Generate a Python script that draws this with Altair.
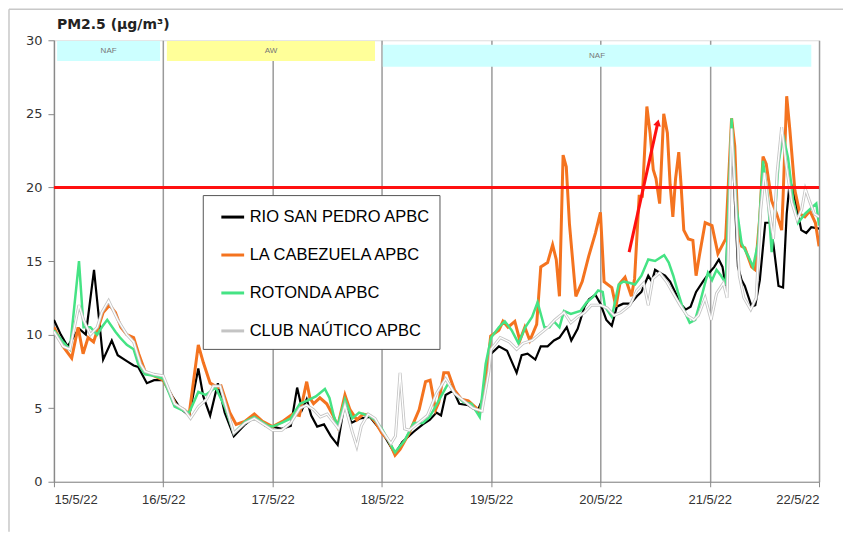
import altair as alt
import pandas as pd

# ---- data (hours since 15/5/22 00:00, PM2.5 µg/m3) ----
series_names = ["RIO SAN PEDRO APBC", "LA CABEZUELA  APBC", "ROTONDA  APBC", "CLUB NAÚTICO  APBC"]
series_colors = ["#000000", "#F4731F", "#45E384", "#c4c4c4"]

rio_h = [0, 1.5, 3, 5.5, 7, 8.8, 10.8, 12.7, 14, 16, 17.5, 18.5, 20.4, 22, 24, 26, 27.7, 29.7, 31.7, 32.8,
         34.3, 36, 37.5, 39.5, 42, 44, 46.5, 48, 50, 52, 53.4, 54.5, 55.5, 56.5, 57.8, 59.3, 60.8, 62.3, 63.9,
         65.3, 67.2, 69.4, 70.7, 72, 74.9, 76.5, 79, 81, 82.5, 84, 85, 86, 87.7, 89, 91, 93, 94.5, 95.5, 96,
         97.7, 99.5, 101.6, 102.7, 104, 105.7, 106.9, 108.4, 109.8, 111, 112.6, 113.6, 115, 116.5, 117.5,
         118.9, 120, 121.3, 122.5, 123.6, 125, 126.6, 128, 129, 130.5, 131.3, 132, 133, 134.2, 135.3, 136.4,
         137.6, 138.7, 139.8, 141, 142.5, 143.9, 145, 146, 146.8, 147.5, 148.8, 149.5, 150.2, 151, 151.7,
         153.2, 154, 155, 156.2, 157.3, 158, 159.1, 160.1, 160.9, 161.6, 162.3, 163.4, 164.1, 165.2, 166.3, 168]
rio_v = [11.0, 10.0, 9.2, 10.4, 10.0, 14.4, 8.3, 9.6, 8.6, 8.2, 7.9, 7.8, 6.7, 6.9, 6.9, 5.8, 5.0, 4.5, 7.7, 5.8,
         4.5, 6.7, 4.7, 3.1, 3.9, 4.4, 3.8, 3.75, 3.6, 3.8, 6.4, 4.9, 5.6, 4.5, 3.75, 3.9, 3.1, 2.5, 5.5,
         4.0, 4.3, 4.4, 3.9, 3.4, 1.9, 2.7, 3.4, 3.9, 4.2, 4.7, 4.5, 5.9, 6.2, 5.3, 5.2, 4.8, 5.9, 8.7, 8.7,
         9.2, 8.9, 7.4, 8.6, 8.7, 8.3, 9.2, 9.2, 9.6, 9.8, 10.5, 9.6, 10.4, 11.9, 12.4,
         12.7, 12.1, 11.0, 10.6, 11.9, 12.1, 12.1, 12.6, 12.9, 14.0, 13.6, 14.4, 14.2, 14.0, 13.6, 12.9,
         12.1, 11.7, 11.9, 12.9, 13.6, 14.2, 14.6, 15.1, 14.6, 13.3, 24.5, 19.2, 14.6, 13.7, 13.3,
         11.9, 12.0, 13.7, 17.6, 17.6, 16.1, 13.3, 13.2, 18.2, 20.5, 19.8, 18.2, 17.1, 16.9, 17.3, 17.2]

cab_h = [0, 2, 3.9, 5.3, 6.4, 7.5, 8.7, 10.8, 12.2, 13.5, 14.7, 16, 17.5, 18.6, 20, 22, 24, 25.4, 26.8, 28.6,
         29.7, 31.7, 32.8, 34.3, 36, 36.7, 38.6, 40, 41.9, 44, 45.8, 48, 50.2, 52.4, 53.9, 55.5, 56.2, 57,
         58.4, 59.9, 61.3, 62.3, 63.9, 65, 66.5, 67.9, 69.4, 70.7, 72, 73.5, 74.9, 76, 78, 80.2, 81.6, 82.6,
         83.8, 84.5, 85.6, 86.6, 88, 89.5, 91, 92.8, 93.5, 94.8, 95.9, 97.7, 98.6, 99.7, 101.2, 102.3, 103.4,
         104.5, 106, 106.9, 108.4, 109.5, 110.3, 111, 111.8, 112.5, 113.2, 114.6, 116, 117.4, 118.9, 120,
         120.8, 122.5, 123.4, 124.3, 125.4, 126.8, 127.5, 128.5, 129.2, 130.2, 130.9, 131.6, 132.2, 133.0,
         133.9, 134.7, 135.3, 135.9, 136.5, 137.2, 137.7, 138.3, 139.3, 140.3, 141.0, 141.8, 143, 144.5,
         145.8, 147.5, 148.8, 149.5, 150.2, 151, 151.7, 153.2, 154, 155, 155.7, 156.4, 157.6, 158.7, 159.8,
         160.1, 160.9, 161.6, 162.7, 163.8, 164.9, 166, 167.2, 168]
cab_v = [10.5, 9.2, 8.4, 10.5, 8.7, 9.8, 9.5, 11.5, 12.0, 11.5, 10.5, 10.0, 9.8, 8.7, 7.5, 7.2, 6.9, 6.1, 5.2, 4.9,
         4.6, 9.3, 8.1, 6.7, 6.4, 6.5, 4.7, 3.9, 4.1, 4.6, 4.1, 3.75, 4.1, 4.6, 4.5, 6.8, 5.7, 5.3,
         5.7, 5.3, 4.5, 3.75, 5.9, 4.9, 4.2, 4.6, 4.5, 4.0, 3.3, 2.8, 1.8, 2.2, 3.3, 4.9, 6.8, 6.9,
         4.9, 5.4, 7.4, 7.4, 6.2, 5.6, 5.5, 5.0, 4.7, 6.7, 9.9, 10.3, 10.9, 10.5, 10.9, 9.6, 10.5,
         9.6, 10.7, 14.6, 14.9, 16.1, 15.1, 12.6, 22.2, 21.4, 17.5, 12.6, 13.6, 15.3, 16.9, 18.3,
         13.6, 13.2, 11.9, 13.5, 13.9, 12.6, 13.8, 19.4, 19.4, 25.5, 23.7, 21.2, 20.6, 18.9,
         25.0, 23.7, 20.2, 18.0, 20.6, 22.4, 20.2, 17.1, 16.5, 16.4, 14.0, 15.5, 17.6, 17.4,
         15.5, 16.5, 24.7, 22.8, 17.1, 16.0, 15.9, 14.6, 14.4, 18.0, 22.1, 21.6, 19.1, 18.2, 17.1,
         19.3, 26.2, 23.9, 19.8, 18.2, 18.0, 18.4, 17.6, 16.0]

rot_h = [0, 2, 3.5, 5.5, 6.5, 8, 9.5, 10.5, 11.7, 13.5, 14.5, 16, 17.5, 18.5, 20, 22, 24, 26.5, 28.6, 29.7,
         31.7, 33.3, 35.5, 37.5, 39.5, 42, 44, 47, 48, 50, 52, 54, 55.5, 57.5, 59.5, 60.5, 61.5, 62.3, 63.9,
         65.5, 67, 69, 70.5, 72, 74.9, 77, 79, 81, 82.5, 85, 86.6, 88, 90, 91.7, 93.5, 94.8, 96, 97.7, 99,
         100.5, 102, 103.5, 105, 106.2, 107.7, 108.8, 109.8, 111, 112, 113.5, 115.6, 117, 118.5, 119.5,
         120.5, 121, 122.5, 124, 125, 126.5, 127.6, 129, 130.5, 132, 134, 135, 136, 137, 138, 139.6, 140.8,
         141.8, 142.9, 143.6, 144.5, 145.5, 146.5, 147.5, 148.8, 149.9, 151, 152.5, 153.5, 154.6, 155.7,
         156.8, 157.6, 158.4, 159.1, 160.1, 161.2, 162.3, 163.4, 164.9, 166.3, 167.4, 168]
rot_v = [10.3, 9.5, 9.0, 15.0, 10.5, 10.5, 10.0, 10.5, 11.0, 10.2, 9.8, 9.3, 9.0, 8.0, 7.3, 7.2, 7.0, 5.1, 4.8, 4.7,
         6.1, 5.9, 6.4, 5.1, 3.3, 4.1, 4.4, 3.8, 3.75, 4.0, 4.3, 5.3, 5.5, 5.8, 6.3, 5.7, 4.4, 3.8, 5.6,
         4.3, 4.7, 4.5, 4.2, 3.6, 2.0, 2.8, 4.0, 4.0, 4.4, 5.8, 6.7, 6.0, 5.4, 5.3, 4.4, 8.0, 9.8, 10.5, 10.9,
         10.3, 9.4, 10.5, 11.2, 12.2, 10.5, 10.5, 10.9, 10.5, 11.6, 11.4, 11.6, 12.2, 12.6, 13.0,
         12.9, 11.9, 11.2, 13.4, 13.6, 13.5, 13.4, 14.0, 15.1, 15.0, 15.4, 14.9, 14.0, 12.9, 11.9, 10.8, 11.0,
         12.1, 13.4, 14.2, 13.7, 14.4, 14.0, 13.5, 24.7, 18.6, 16.2, 15.3, 14.6, 16.2, 21.8,
         19.2, 15.6, 18.5, 21.6, 23.6, 22.0, 19.2, 17.6, 18.2, 18.6, 18.9, 17.4]

club_h = [0, 2, 3.5, 5.5, 6.5, 8, 9.5, 10.5, 12, 14, 15, 16, 17.5, 19, 20, 22, 24, 26.5, 28.6, 30, 31.7, 33.5,
          35, 36.5, 38, 39.5, 42, 44, 47, 48, 50, 52, 54, 55.5, 57, 58.5, 60, 61.5, 62.5, 63.9, 65.5, 66.5,
          67.5, 69, 70.5, 72, 74, 75, 76, 77, 78, 80, 82, 84, 86, 88, 90, 92, 94, 95.5, 96, 98, 100, 101.6,
          103, 105, 106.5, 108.5, 110, 112, 113.5, 115, 116.5, 118, 120, 121.5, 123, 124.5, 126.5, 128,
          129.5, 130.5, 131.5, 133, 134.5, 136, 137.5, 139, 140.5, 141.5, 143, 144.3, 145.5, 147, 147.8,
          148.8, 149.6, 150.5, 151.5, 153, 154.2, 155.2, 156, 157, 158, 158.8, 159.8, 160.8, 162, 163.2,
          164.2, 165, 166, 167, 168]
club_v = [10.2, 9.2, 9.0, 12.0, 11.0, 10.0, 10.5, 11.5, 12.3, 11.0, 10.5, 10.0, 9.5, 8.0, 7.5, 7.3, 7.2, 5.3, 4.9,
          4.3, 5.1, 5.6, 6.5, 6.5, 4.9, 3.3, 4.0, 4.3, 3.7, 3.5, 3.5, 4.0, 5.0, 5.2, 4.9, 4.4, 4.6, 4.0, 3.6,
          5.2, 3.4, 2.4, 3.8, 4.6, 4.3, 3.5, 2.6, 3.1, 7.4, 3.6, 3.5, 4.0, 4.5, 6.0, 7.0, 6.0, 5.5, 5.0, 4.8,
          7.5, 9.0, 9.8, 9.5, 9.0, 9.4, 9.6, 10.0, 10.5, 11.0, 11.5, 10.8, 11.2, 11.5, 12.0, 12.0, 11.8,
          11.3, 11.5, 12.0, 13.0, 13.5, 12.0, 13.8, 14.2, 13.6, 12.8, 12.0, 11.3, 11.0, 11.3, 12.5, 11.0,
          12.8, 13.5, 12.5, 24.0, 19.5, 14.0, 12.5, 11.7, 12.5, 18.5, 21.0, 18.5, 16.5, 21.0, 24.1, 21.5,
          19.0, 17.8, 18.5, 19.9, 19.0, 18.2, 18.0]

limit_value = [20]
day_labels = ["15/5/22", "16/5/22", "17/5/22", "18/5/22", "19/5/22", "20/5/22", "21/5/22", "22/5/22"]
day_ticks = [0, 24, 48, 72, 96, 120, 144, 168]

band_labels = ["NAF", "AW", "NAF"]
band_start = [0.7, 24.8, 72.2]
band_end = [23.3, 70.5, 166.3]
band_top = [29.95, 29.95, 29.7]
band_bottom = [28.6, 28.6, 28.2]
band_colors = ["#CCFFFF", "#FFFF99", "#CCFFFF"]

arrow_x = [126.3, 132.6]
arrow_y = [15.6, 24.4]

title_text = ["PM2.5 (µg/m³)"]

# ---- build tables ----
def frame(name, hs, vs):
    return pd.DataFrame({"h": hs, "v": vs, "series": name})

df_rio = frame(series_names[0], rio_h, rio_v)
df_cab = frame(series_names[1], cab_h, cab_v)
df_rot = frame(series_names[2], rot_h, rot_v)
df_club = frame(series_names[3], club_h, club_v)

x_scale = alt.Scale(domain=[0, 168], nice=False, zero=False)
y_scale = alt.Scale(domain=[0, 30], nice=False)

label_expr = "[" + ",".join("'%s'" % d for d in day_labels) + "][round(datum.value/24)]"
x_axis = alt.Axis(values=day_ticks, labelExpr=label_expr, title=None, grid=True, gridColor="#9a9a9a",
                  gridWidth=1.5, domainColor="#888", tickColor="#888", tickSize=5, labelPadding=7,
                  labelFont="Liberation Sans", labelFontSize=13, labelColor="#333")
y_axis = alt.Axis(values=[0, 5, 10, 15, 20, 25, 30], title=None, grid=False, domainColor="#888",
                  tickColor="#888", tickSize=6, labelPadding=6, labelFont="DejaVu Sans",
                  labelFontSize=13, labelColor="#333")

color = alt.Color("series:N", scale=alt.Scale(domain=series_names, range=series_colors),
                  legend=alt.Legend(orient="none", legendX=149, legendY=155, title=None,
                                    symbolType="stroke", symbolSize=520, symbolStrokeWidth=3,
                                    labelFont="Liberation Sans", labelFontSize=16.5, labelColor="#000",
                                    strokeColor="#555", fillColor="white", padding=9, rowPadding=16,
                                    symbolOffset=8, labelOffset=4, labelLimit=400))

def line(df, width):
    return alt.Chart(df).mark_line(strokeWidth=width, clip=True).encode(
        x=alt.X("h:Q", scale=x_scale, axis=x_axis),
        y=alt.Y("v:Q", scale=y_scale, axis=y_axis),
        color=color,
    )

bands_df = pd.DataFrame({"label": band_labels, "x0": band_start, "x1": band_end,
                         "y0": band_bottom, "y1": band_top, "c": band_colors})
bands_df["xm"] = (bands_df["x0"] + bands_df["x1"]) / 2
bands_df["ym"] = (bands_df["y0"] + bands_df["y1"]) / 2

bands = alt.Chart(bands_df).mark_rect().encode(
    x=alt.X("x0:Q", scale=x_scale), x2="x1:Q",
    y=alt.Y("y0:Q", scale=y_scale), y2="y1:Q",
    fill=alt.Fill("c:N", scale=None),
)
band_text = alt.Chart(bands_df).mark_text(fontSize=8, color="#777", font="Liberation Sans").encode(
    x=alt.X("xm:Q", scale=x_scale), y=alt.Y("ym:Q", scale=y_scale), text="label:N")

limit_df = pd.DataFrame({"x0": [0], "x1": [168], "v": limit_value})
limit = alt.Chart(limit_df).mark_rule(color="#FF1010", strokeWidth=3).encode(
    x=alt.X("x0:Q", scale=x_scale), x2="x1:Q", y=alt.Y("v:Q", scale=y_scale))

arrow_df = pd.DataFrame({"x0": [arrow_x[0]], "x1": [arrow_x[1]], "y0": [arrow_y[0]], "y1": [arrow_y[1]]})
arrow_line = alt.Chart(arrow_df).mark_rule(color="#FF1010", strokeWidth=3).encode(
    x=alt.X("x0:Q", scale=x_scale), x2="x1:Q", y=alt.Y("y0:Q", scale=y_scale), y2="y1:Q")
arrow_head = alt.Chart(arrow_df).mark_point(shape="triangle-up", filled=True, color="#FF1010",
                                            size=60, angle=13, opacity=1).encode(
    x=alt.X("x1:Q", scale=x_scale), y=alt.Y("y1:Q", scale=y_scale))

club_white = alt.Chart(df_club).mark_line(strokeWidth=1.3, color="white", clip=True).encode(
    x=alt.X("h:Q", scale=x_scale), y=alt.Y("v:Q", scale=y_scale))

single = pd.DataFrame({"t": title_text})
frame_top = alt.Chart(single).mark_rule(color="#c8c8c8", strokeWidth=1.5).encode(
    x=alt.value(-45), x2=alt.value(790), y=alt.value(-31))
frame_left = alt.Chart(single).mark_rule(color="#c8c8c8", strokeWidth=1.5).encode(
    x=alt.value(-45), y=alt.value(-31), y2=alt.value(492))
title_mark = alt.Chart(single).mark_text(align="left", baseline="alphabetic", font="DejaVu Sans",
                                         fontSize=14, fontWeight="bold", color="#222").encode(
    x=alt.value(3), y=alt.value(-11), text="t:N")

chart = alt.layer(
    frame_top, frame_left, bands, band_text,
    line(df_rio, 2.2), line(df_cab, 3), line(df_rot, 2.5), line(df_club, 3), club_white,
    limit, arrow_line, arrow_head, title_mark,
).properties(
    width=766, height=442,
    autosize=alt.AutoSizeParams(type="none"),
    padding={"left": 46, "top": 32, "right": 24, "bottom": 50},
).configure_view(stroke="#888", strokeWidth=1.5).configure(background="white")

chart.save("out.html", embed_options={"renderer": "svg", "actions": False})
